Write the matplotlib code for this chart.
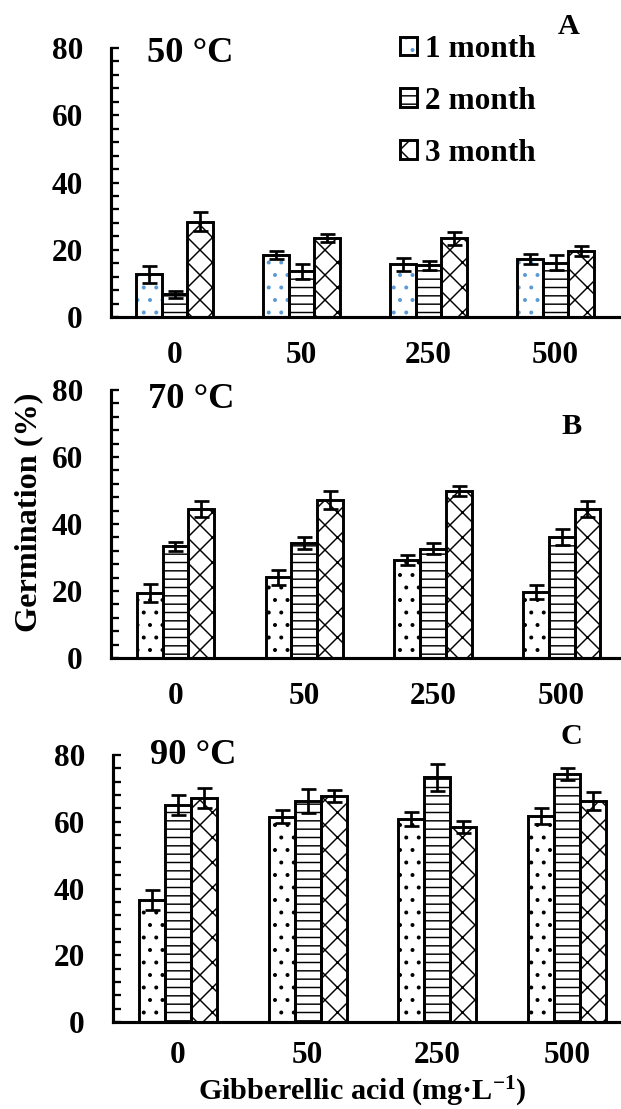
import matplotlib
matplotlib.use('Agg')
import matplotlib.pyplot as plt
import numpy as np
from matplotlib.ticker import MultipleLocator

# ---------------- data ----------------
cats = ['0', '50', '250', '500']
months = ['1 month', '2 month', '3 month']
temps = ['50 °C', '70 °C', '90 °C']
letters = ['A', 'B', 'C']

a_mean1 = [12.7, 18.4, 15.7, 17.2]
a_err1 = [2.5, 1.2, 1.9, 1.5]
a_mean2 = [6.7, 13.6, 15.4, 16.2]
a_err2 = [1.0, 2.2, 1.4, 2.1]
a_mean3 = [28.3, 23.4, 23.4, 19.6]
a_err3 = [2.8, 1.2, 2.0, 1.4]

b_mean1 = [19.4, 24.1, 29.3, 19.7]
b_err1 = [2.7, 2.3, 1.5, 2.0]
b_mean2 = [33.3, 34.3, 32.6, 36.1]
b_err2 = [1.4, 1.9, 1.7, 2.4]
b_mean3 = [44.5, 47.2, 49.9, 44.5]
b_err3 = [2.3, 2.7, 1.5, 2.3]

c_mean1 = [36.7, 61.5, 60.8, 61.8]
c_err1 = [3.0, 2.0, 2.0, 2.4]
c_mean2 = [65.0, 66.2, 73.3, 74.2]
c_err2 = [3.0, 3.5, 4.0, 1.8]
c_mean3 = [67.0, 67.7, 58.5, 66.2]
c_err3 = [3.0, 1.8, 1.8, 2.8]

# ---------------- style ----------------
DPI = 150
W, H = 621, 1109
def pt(px):
    # pixels -> points at the output dpi
    return px * 72.0 / DPI

plt.rcParams['font.family'] = ['Liberation Serif', 'DejaVu Serif']
plt.rcParams['font.weight'] = 'bold'
plt.rcParams['mathtext.fontset'] = 'custom'
plt.rcParams['mathtext.rm'] = 'Liberation Serif:bold'
plt.rcParams['mathtext.bf'] = 'Liberation Serif:bold'
plt.rcParams['mathtext.it'] = 'Liberation Serif:bold'
plt.rcParams['mathtext.default'] = 'rm'
plt.rcParams['hatch.linewidth'] = 0.7

fs_tick = 15
fs_temp = 17.5
fs_leg = 15
fs_letter = 14.5
fs_label = 15.5

hatches = ['..', '---', 'xx']
width = 0.2
offsets = [-0.2, 0.0, 0.2]

fig = plt.figure(figsize=(W / DPI, H / DPI), dpi=DPI)

# axes boxes in pixels: left, top(80), right, bottom(0)
boxes = [(111, 48, 619, 317), (111, 390, 626, 658), (113, 755, 632, 1022)]
temp_y = [0.981, 0.963, 1.0]
xpad = [24, 24, 19]
means = [(a_mean1, a_mean2, a_mean3), (b_mean1, b_mean2, b_mean3), (c_mean1, c_mean2, c_mean3)]
errs = [(a_err1, a_err2, a_err3), (b_err1, b_err2, b_err3), (c_err1, c_err2, c_err3)]
dot_colors = ['#5b9bd5', 'black', 'black']

x = np.arange(len(cats))
legend_handles = []
for p in range(3):
    l, t, r, b = boxes[p]
    ax = fig.add_axes([l / W, 1 - b / H, (r - l) / W, (b - t) / H])
    ax.patch.set_alpha(0)
    for i in range(3):
        hc = dot_colors[p] if i == 0 else 'black'
        h1 = ax.bar(x + offsets[i], means[p][i], width=width, color='white',
                    edgecolor=hc, hatch=hatches[i], linewidth=0, zorder=2)
        h2 = ax.bar(x + offsets[i], means[p][i], width=width, fill=False,
                    edgecolor='black', linewidth=1.4, zorder=3)
        ax.errorbar(x + offsets[i], means[p][i], yerr=errs[p][i], fmt='none',
                    ecolor='black', elinewidth=1.3, capsize=pt(7.5), capthick=1.3, zorder=4)
        if p == 0:
            legend_handles.append((h1.patches[0], h2.patches[0]))

    ax.set_xlim(-0.5, 3.5)
    ax.set_ylim(0, 80)
    ax.set_xticks(x)
    ax.set_xticklabels(cats)
    ax.yaxis.set_major_locator(MultipleLocator(20))
    ax.yaxis.set_minor_locator(MultipleLocator(4))
    ax.tick_params(axis='y', which='major', direction='in', length=pt(8), width=1.1,
                   labelsize=fs_tick, pad=pt(28))
    ax.tick_params(axis='y', which='minor', direction='in', length=pt(8), width=1.1)
    ax.tick_params(axis='x', length=0, labelsize=fs_tick, pad=pt(xpad[p]))
    for s in ['top', 'right']:
        ax.spines[s].set_visible(False)
    for s in ['left', 'bottom']:
        ax.spines[s].set_linewidth(1.5)
    ax.text(0.071, temp_y[p], temps[p], transform=ax.transAxes, fontsize=fs_temp,
            fontweight='bold', ha='left', va='center')

    if p == 0:
        ax.legend(legend_handles, months, loc='upper left',
                  bbox_to_anchor=(400 / W, 1 - 35 / H), bbox_transform=fig.transFigure,
                  frameon=False, fontsize=fs_leg, borderpad=0, borderaxespad=0,
                  handlelength=0.55, handleheight=0.55, handletextpad=0.25,
                  labelspacing=0.73)

# panel letters
fig.text(569 / W, 1 - 27 / H, letters[0], fontsize=fs_letter, fontweight='bold', ha='center', va='center')
fig.text(572 / W, 1 - 427 / H, letters[1], fontsize=fs_letter, fontweight='bold', ha='center', va='center')
fig.text(571 / W, 1 - 737 / H, letters[2], fontsize=fs_letter, fontweight='bold', ha='center', va='center')

fig.text(29 / W, 1 - 512 / H, 'Germination (%)', rotation=90, fontsize=fs_label,
         fontweight='bold', ha='center', va='center')
fig.text(362 / W, 1 - 1092 / H, r'Gibberellic acid (mg·L$^{-1}$)', fontsize=14.5,
         fontweight='bold', ha='center', va='center')

fig.savefig('out.png', dpi=DPI, facecolor='white')
